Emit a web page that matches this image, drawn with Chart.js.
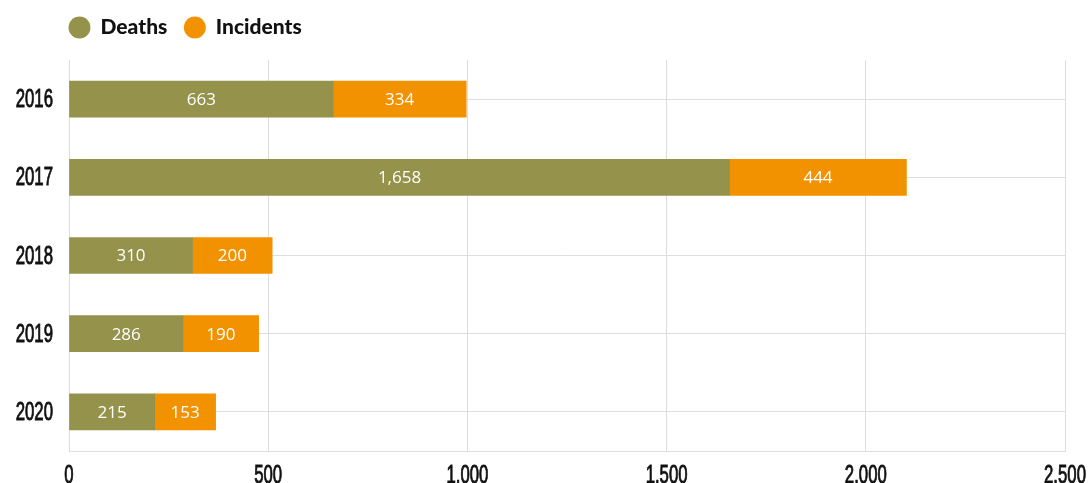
<!DOCTYPE html>
<html>
<head>
<meta charset="utf-8">
<script src="https://cdn.jsdelivr.net/npm/chart.js@4"></script>
<style>
  body { margin: 0; background: #fff; }
</style>
</head>
<body>
<canvas id="chart" width="1091" height="483"></canvas>
<script>
const years = ["2016", "2017", "2018", "2019", "2020"];
const deaths = [663, 1658, 310, 286, 215];
const incidents = [334, 444, 200, 190, 153];
const xTicks = [0, 500, 1000, 1500, 2000, 2500];

// the reference uses a very narrow face, so squeeze a normal one
const tickFont = "25px 'Liberation Sans', Arial, sans-serif";
const squeeze = 0.67;

// labels in the middle of each bar segment
const barLabels = {
    id: 'barLabels',
    afterDatasetsDraw(chart) {
        const ctx = chart.ctx;
        ctx.save();
        ctx.fillStyle = '#ffffff';
        ctx.font = "17px 'Open Sans', sans-serif";
        ctx.textAlign = 'center';
        ctx.textBaseline = 'middle';
        chart.data.datasets.forEach((ds, i) => {
            const meta = chart.getDatasetMeta(i);
            meta.data.forEach((bar, j) => {
                const p = bar.getProps(['x', 'y', 'base'], true);
                ctx.fillText(ds.data[j].toLocaleString('en-US'), (p.x + p.base) / 2, p.y + 1);
            });
        });
        ctx.restore();
    }
};

function narrowText(ctx, text, x, y) {
    ctx.save();
    ctx.translate(x, y);
    ctx.scale(squeeze, 1);
    ctx.fillText(text, 0, 0);
    ctx.strokeText(text, 0, 0);
    ctx.restore();
}

// condensed tick labels, placed with the scales' own tick positions
const narrowTicks = {
    id: 'narrowTicks',
    afterDraw(chart) {
        const ctx = chart.ctx;
        const xs = chart.scales.x, ys = chart.scales.y;
        ctx.save();
        ctx.fillStyle = '#111';
        ctx.strokeStyle = '#111';
        ctx.lineWidth = 0.9;
        ctx.font = tickFont;
        ctx.textAlign = 'right';
        ctx.textBaseline = 'alphabetic';
        ys.ticks.forEach((t, i) => {
            narrowText(ctx, ys.getLabelForValue(t.value), ys.right - 16, ys.getPixelForTick(i) + 8);
        });
        ctx.textAlign = 'center';
        xs.ticks.forEach((t, i) => {
            narrowText(ctx, t.value.toLocaleString('de-DE'), xs.getPixelForTick(i), xs.top + 32);
        });
        ctx.restore();
    }
};

// legend: start flush with the plot and leave more room beneath it
const legendTweak = {
    id: 'legendTweak',
    beforeInit(chart) {
        const fit = chart.legend.fit;
        chart.legend.fit = function () {
            fit.call(this);
            this.height += 12;
        };
    },
    afterLayout(chart) {
        chart.legend.left -= 17;
        chart.legend.right -= 17;
    }
};

const data = {
    labels: years,
    datasets: [{
            label: 'Deaths',
            data: deaths,
            backgroundColor: '#95924b',
            barThickness: 36,
        },
        {
            label: 'Incidents',
            data: incidents,
            backgroundColor: '#f29200',
            barThickness: 36,
        }
    ]
};

const config = {
    type: 'bar',
    data: data,
    plugins: [legendTweak, barLabels, narrowTicks],
    options: {
        indexAxis: 'y',
        responsive: false,
        animation: false,
        layout: {
            padding: { left: 0, right: 26, top: 0, bottom: 0 }
        },
        scales: {
            x: {
                stacked: true,
                min: 0,
                max: 2500,
                afterBuildTicks(axis) {
                    axis.ticks = xTicks.map(v => ({ value: v }));
                },
                afterFit(axis) { axis.height = 32; },
                grid: { color: '#dddddd', drawTicks: false },
                border: { color: '#dddddd' },
                ticks: { display: false }
            },
            y: {
                stacked: true,
                grid: { color: '#dddddd', offset: false, drawTicks: false },
                border: { color: '#dddddd' },
                afterFit(axis) { axis.width = 69; },
                ticks: { display: false }
            }
        },
        plugins: {
            legend: {
                position: 'top',
                align: 'start',
                fullSize: false,
                labels: {
                    usePointStyle: true,
                    pointStyle: 'circle',
                    boxWidth: 22,
                    boxHeight: 15.5,
                    padding: 17,
                    color: '#111',
                    font: { family: "'Lato', sans-serif", size: 21, weight: 900 }
                }
            },
            tooltip: { enabled: false }
        }
    },
};

var chart = new Chart(
    document.getElementById('chart'),
    config
);
</script>
</body>
</html>
